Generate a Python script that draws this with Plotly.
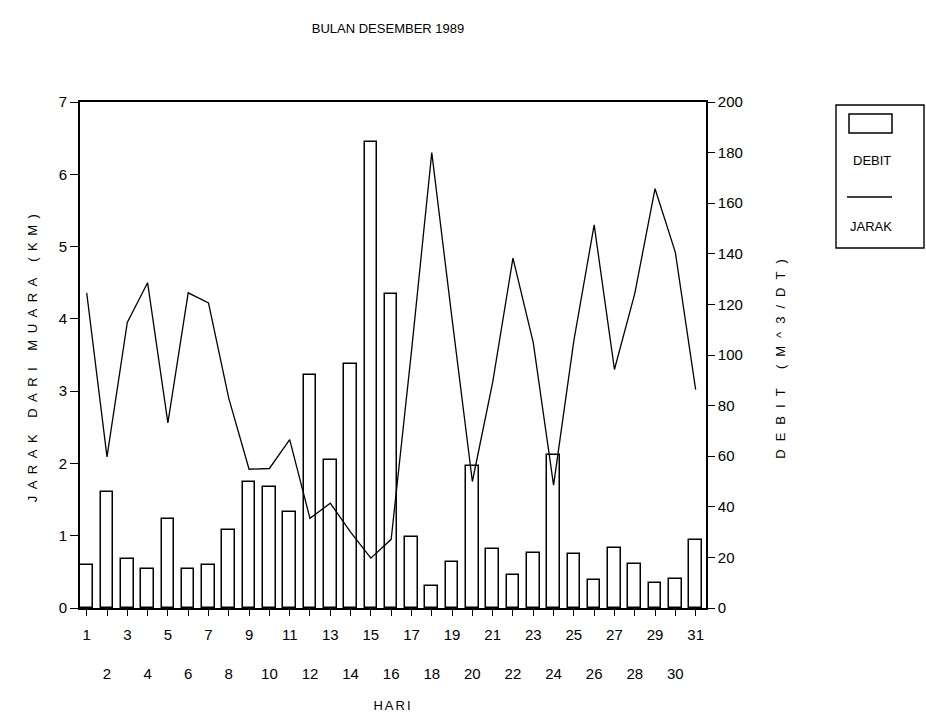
import plotly.graph_objects as go

# Daily data, December 1989
days = list(range(1, 32))
debit = [17, 46, 19.5, 15.5, 35, 15.5, 17, 31, 50, 48, 38, 92, 58.5, 96.5, 184,
         124, 28, 8.7, 18, 56, 23.5, 13, 21.7, 60.5, 21.5, 11, 23.7, 17.5, 10,
         11.6, 27]
jarak = [4.36, 2.09, 3.95, 4.50, 2.56, 4.36, 4.22, 2.90, 1.92, 1.93, 2.33, 1.24,
         1.45, 1.05, 0.69, 0.95, 3.55, 6.30, 4.00, 1.75, 3.12, 4.84, 3.67, 1.70,
         3.70, 5.30, 3.30, 4.35, 5.80, 4.92, 3.02]

# odd days on the first row, even days on a second row below
day_labels = [str(d) if d % 2 else "<br><br>" + str(d) for d in days]

FONT = "Liberation Sans"


def spaced(text, px):
    return f'<span style="letter-spacing:{px}px">{text}</span>'


fig = go.Figure()

# Discharge bars (right axis, drawn first so the line sits on top)
fig.add_trace(go.Bar(
    x=days, y=debit, width=0.62, yaxis="y",
    marker=dict(color="white", line=dict(color="black", width=1.5)),
    showlegend=False, name="DEBIT",
))

# Distance from estuary (left axis)
fig.add_trace(go.Scatter(
    x=days, y=jarak, yaxis="y2", mode="lines",
    line=dict(color="black", width=1.3),
    showlegend=False, name="JARAK",
))

axis_common = dict(
    showline=True, linecolor="black", linewidth=1.6,
    ticks="outside", tickcolor="black", tickwidth=1.3,
    showgrid=False, zeroline=False, automargin=False,
    tickfont=dict(family=FONT, size=15, color="black"),
)

fig.update_layout(
    width=926, height=719,
    margin=dict(l=80, r=220, t=102, b=111),
    paper_bgcolor="white", plot_bgcolor="white",
    font=dict(family=FONT, color="black"),
    title=dict(text="BULAN DESEMBER 1989", x=388 / 926, xanchor="center",
               y=1 - 28 / 719, yanchor="middle",
               font=dict(family=FONT, size=13, color="black")),
    bargap=0,
    xaxis=dict(
        range=[0.67, 31.51], tickvals=days, ticktext=day_labels,
        ticklen=6, mirror=True, ticklabelstandoff=6,
        title=dict(text=spaced("HARI", 2), standoff=20,
                   font=dict(family=FONT, size=13, color="black")),
        **axis_common,
    ),
    yaxis=dict(
        side="right", range=[0, 200], tickvals=list(range(0, 201, 20)),
        ticklen=7,
        title=dict(text=spaced("DEBIT (M^3/DT)", 8), standoff=34,
                   font=dict(family=FONT, size=13, color="black")),
        **axis_common,
    ),
    yaxis2=dict(
        side="left", overlaying="y", range=[0, 7], tickvals=list(range(0, 8)),
        ticklen=8,
        title=dict(text=spaced("JARAK DARI MUARA (KM)", 6.5), standoff=18,
                   font=dict(family=FONT, size=13, color="black")),
        **axis_common,
    ),
)

# Hand-drawn legend box to the right of the plot
px = lambda x: (x - 80) / 626
py = lambda y: (608 - y) / 506
fig.add_shape(type="rect", xref="paper", yref="paper",
              x0=px(836), x1=px(924), y0=py(248), y1=py(105),
              line=dict(color="black", width=1.4))
fig.add_shape(type="rect", xref="paper", yref="paper",
              x0=px(849), x1=px(892), y0=py(133), y1=py(114),
              line=dict(color="black", width=1.5), fillcolor="white")
fig.add_shape(type="line", xref="paper", yref="paper",
              x0=px(847), x1=px(892), y0=py(197), y1=py(197),
              line=dict(color="black", width=1.3))
fig.add_annotation(text="DEBIT", xref="paper", yref="paper",
                   x=px(872), y=py(160), xanchor="center", yanchor="middle",
                   showarrow=False,
                   font=dict(family=FONT, size=13, color="black"))
fig.add_annotation(text="JARAK", xref="paper", yref="paper",
                   x=px(871), y=py(226), xanchor="center", yanchor="middle",
                   showarrow=False,
                   font=dict(family=FONT, size=13, color="black"))

fig.write_html("out.html")
